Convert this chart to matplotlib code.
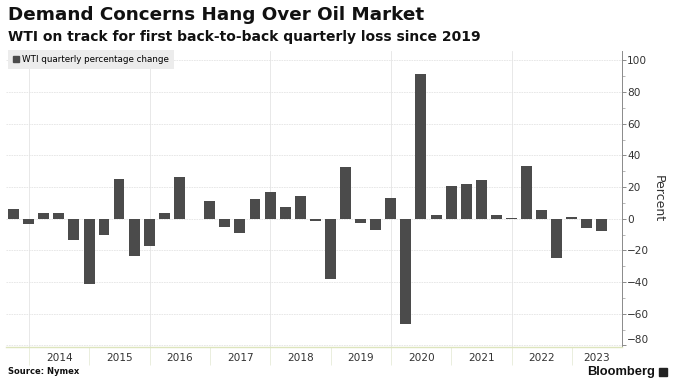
import matplotlib.pyplot as plt
import matplotlib.dates as mdates
from matplotlib.patches import Patch, Rectangle
import pandas as pd
import datetime as dt

# quarters Q3 2013 .. Q2 2023, bars placed at quarter end (Bloomberg style)
quarters = pd.period_range('2013Q3', '2023Q2', freq='Q')
wti_change = [6.1, -3.5, 3.4, 3.8, -13.3, -41.3, -10.4, 25.0, -23.8, -17.4,
              3.5, 26.2, -0.4, 11.5, -5.5, -8.8, 12.2, 17.0, 7.6, 14.3,
              -1.2, -37.8, 32.5, -2.5, -7.4, 13.0, -66.2, 91.6, 2.4, 20.7,
              21.9, 24.2, 2.3, 0.4, 33.2, 5.6, -24.6, 1.0, -5.6, -7.9]
years = list(range(2014, 2024))
series_name = 'WTI quarterly percentage change'

dates = quarters.end_time.normalize()

fig = plt.figure(figsize=(6.8, 3.87), dpi=100)
ax = fig.add_axes([6 / 680, 40 / 387, (621.5 - 6) / 680, (347 - 51) / 387])

ax.bar(dates, wti_change, width=66, color='#4b4b4b', zorder=3)

x0 = dt.datetime(2013, 8, 15)
x1 = dt.datetime(2023, 10, 27)
ax.set_xlim(x0, x1)
ax.set_ylim(-81, 106)

# y axis on the right
ax.yaxis.tick_right()
ax.yaxis.set_label_position('right')
ax.set_yticks(range(-80, 101, 20))
ax.set_yticks(range(-80, 101, 10), minor=True)
ax.tick_params(axis='y', which='major', length=3, width=0.6, color='#777',
               labelsize=7.6, labelcolor='#333', pad=1)
ax.tick_params(axis='y', which='minor', length=2, width=0.5, color='#999')
for lab in ax.get_yticklabels():
    if lab.get_text() in ('-80', '−80'):
        lab.set_va('bottom')
ax.set_ylabel('Percent', rotation=270, fontsize=9, color='#333', labelpad=11)

# x axis: separators at year starts, labels centered on visible part of year
ax.set_xticks([dt.datetime(y, 1, 1) for y in years])
ax.set_xticklabels([])
ax.tick_params(axis='x', which='major', length=13, width=0.6, color='#e7ebd8')
mids = []
for y in years:
    a = max(mdates.date2num(dt.datetime(y, 1, 1)), mdates.date2num(x0))
    b = min(mdates.date2num(dt.datetime(y + 1, 1, 1)), mdates.date2num(x1))
    mids.append((a + b) / 2)
ax.set_xticks(mids, minor=True)
ax.set_xticklabels([str(y) for y in years], minor=True)
ax.tick_params(axis='x', which='minor', length=0, labelsize=7.6,
               labelcolor='#333', pad=4)

# grid
for v in range(-80, 101, 20):
    ax.axhline(v, color='#e4e4e4', lw=0.6, ls=(0, (2, 1)), zorder=1)
for y in [2014, 2016, 2018, 2020, 2022]:
    ax.axvline(dt.datetime(y, 1, 1), color='#e4e4e4', lw=0.6, zorder=1)

for s in ['top', 'left']:
    ax.spines[s].set_visible(False)
ax.spines['right'].set_color('#8a8a8a')
ax.spines['right'].set_linewidth(0.7)
ax.spines['bottom'].set_color('#dde5bd')
ax.spines['bottom'].set_linewidth(1.0)

leg = ax.legend(handles=[Patch(color='#4b4b4b', label=series_name)],
                loc='upper left', bbox_to_anchor=(8 / 680, 1 - 50 / 387),
                bbox_transform=fig.transFigure, fontsize=6.3, frameon=True,
                fancybox=False, handlelength=0.75, handleheight=0.75,
                handletextpad=0.3, borderpad=0.55, borderaxespad=0)
leg.get_frame().set_facecolor('#ececec')
leg.get_frame().set_edgecolor('none')
leg.get_frame().set_alpha(1)

fig.text(8 / 680, 1 - 6 / 387, 'Demand Concerns Hang Over Oil Market',
         fontsize=13.2, fontweight='bold', color='#111', va='top')
fig.text(8 / 680, 1 - 30 / 387,
         'WTI on track for first back-to-back quarterly loss since 2019',
         fontsize=10.0, fontweight='bold', color='#111', va='top')
fig.text(8 / 680, 1 - 372 / 387, 'Source: Nymex', fontsize=6.0,
         fontweight='bold', color='#111', va='center')
fig.text(655 / 680, 1 - 372 / 387, 'Bloomberg', fontsize=9.3,
         fontweight='bold', family='Liberation Sans', color='#111',
         va='center', ha='right')
fig.patches.append(Rectangle((659 / 680, 1 - 376 / 387), 8 / 680, 8 / 387,
                             transform=fig.transFigure, color='#222'))

fig.savefig('out.png', dpi=100)
